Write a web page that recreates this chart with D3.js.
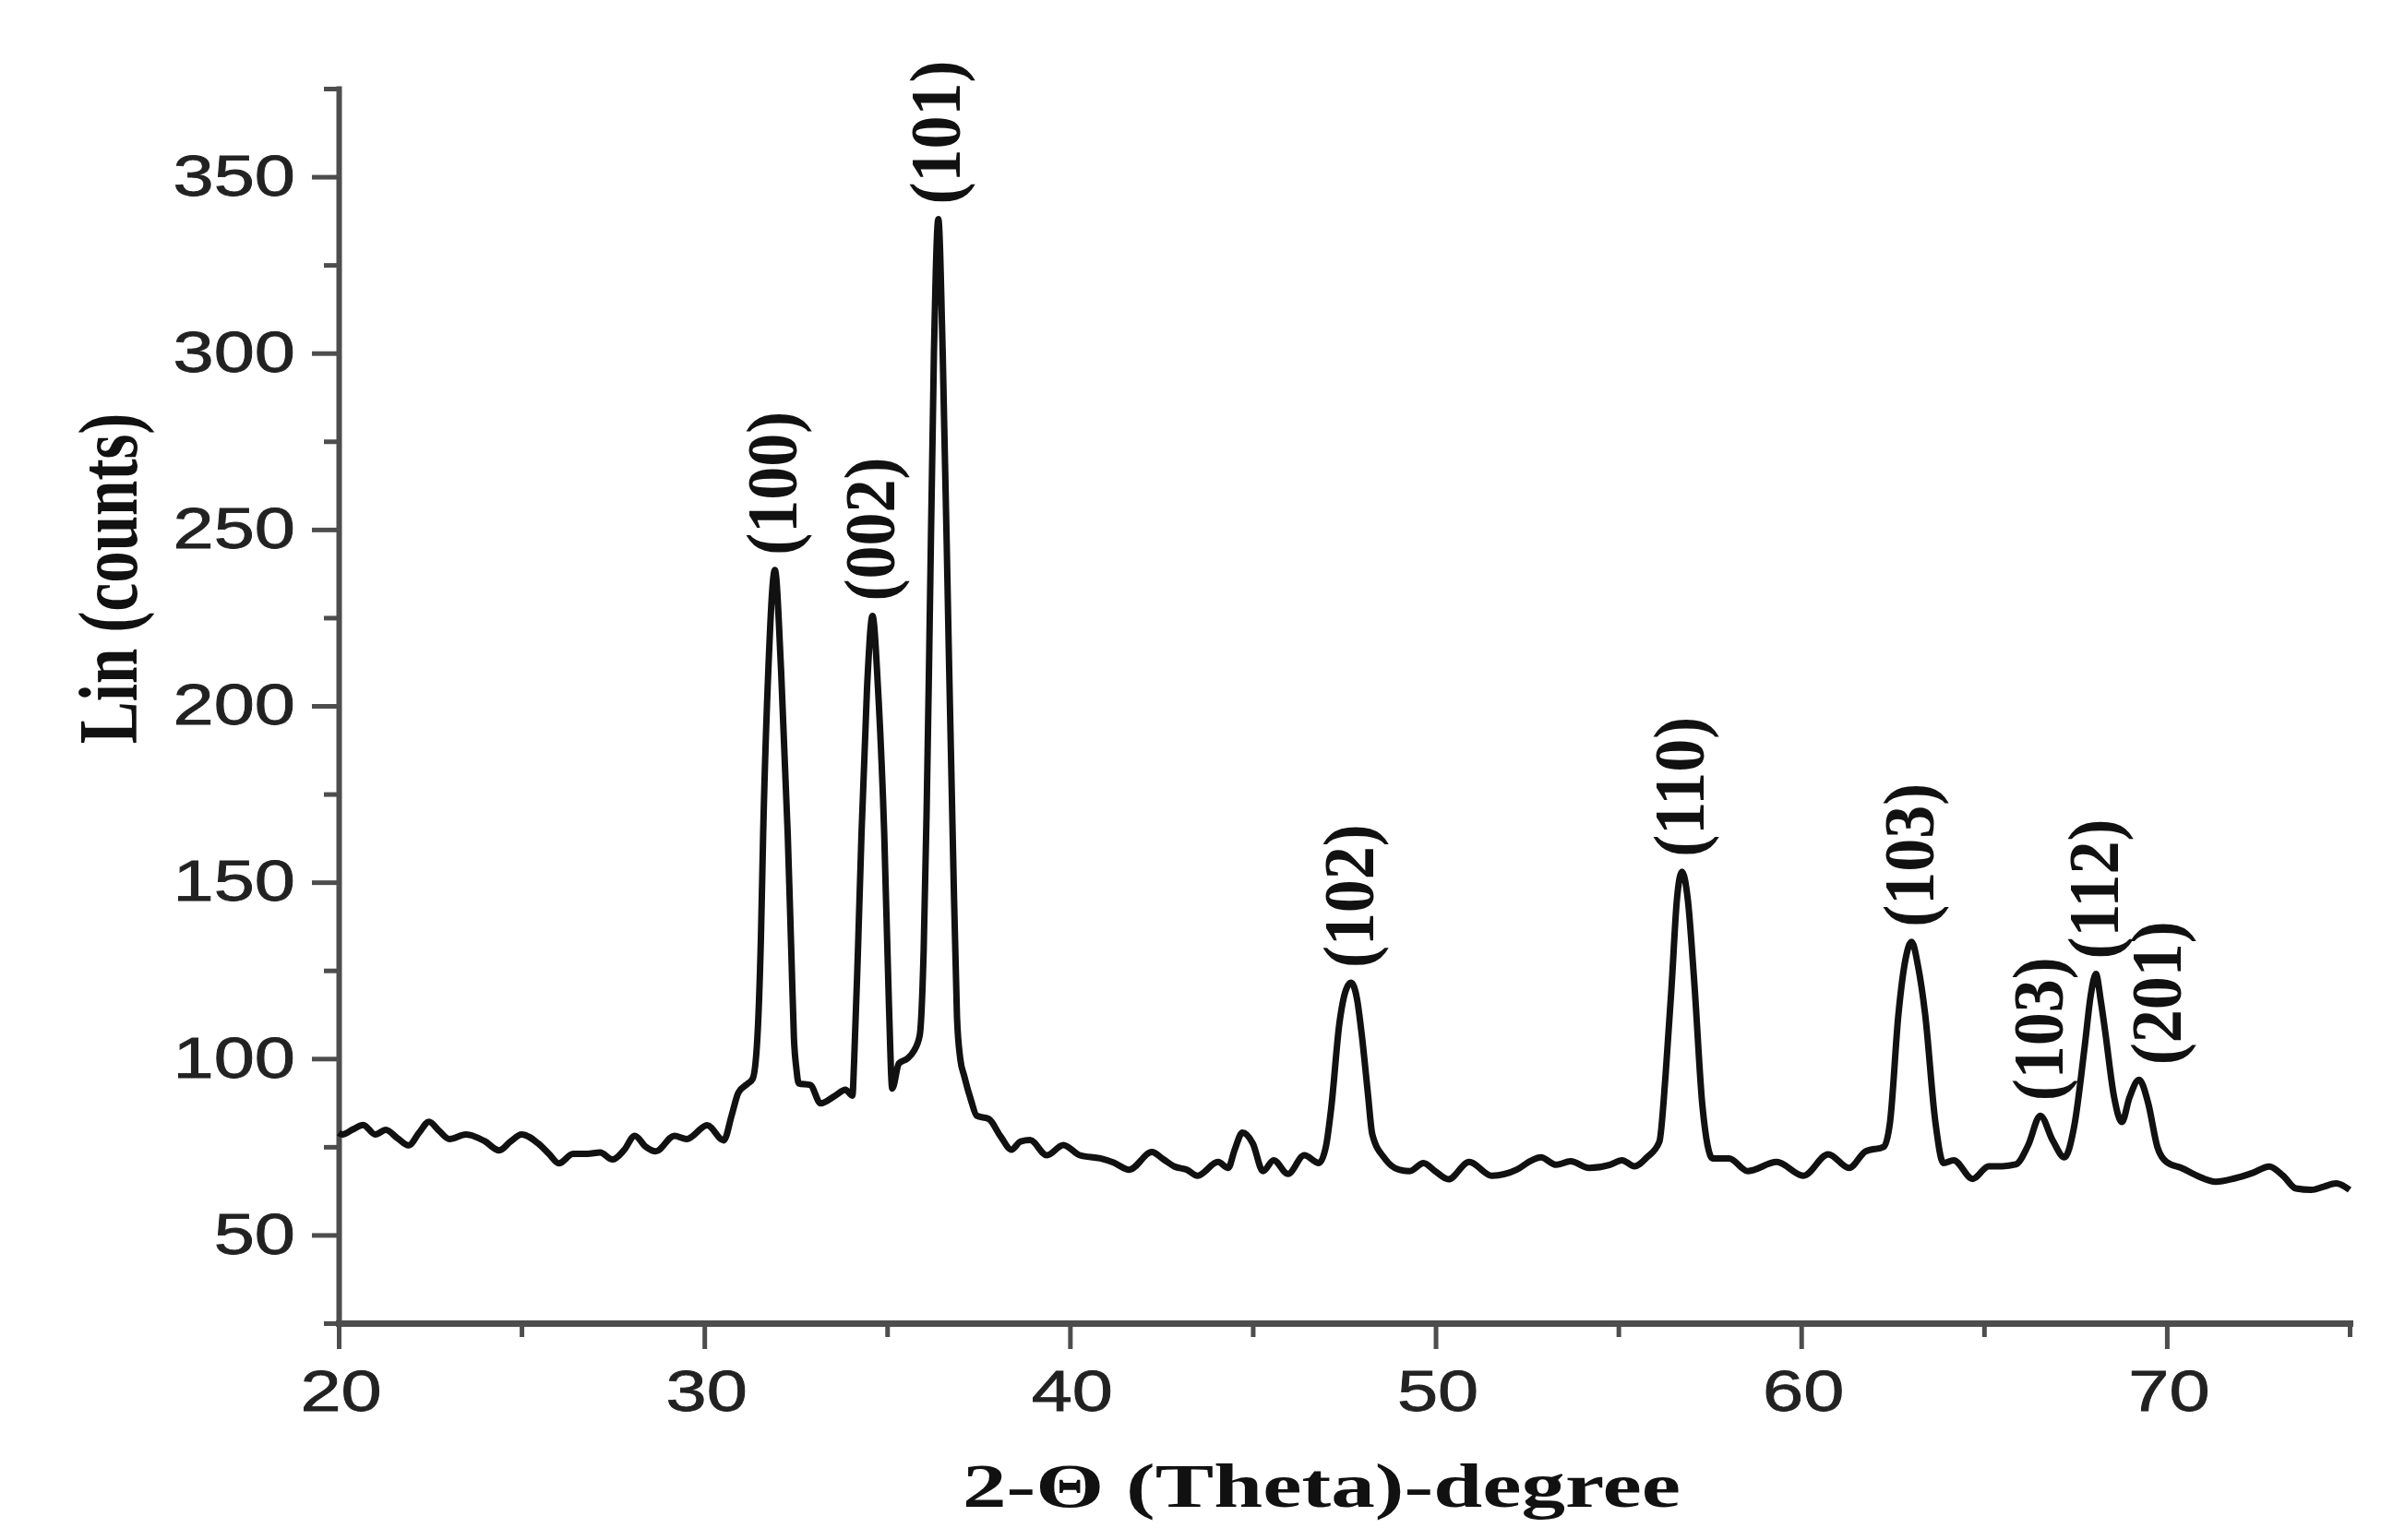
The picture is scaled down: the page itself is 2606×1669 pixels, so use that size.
<!DOCTYPE html>
<html>
<head>
<meta charset="utf-8">
<script src="https://cdn.jsdelivr.net/npm/d3@7"></script>
<style>
    body { margin: 0; background: #fff; }
    svg { display: block; }
</style>
</head>
<body>
<svg id="xrd-chart" width="2606" height="1669" viewBox="0 0 2606 1669"></svg>
<script>

// 2-theta positions (degrees) and intensities
const twoTheta = [
    20.0, 20.1, 20.4, 20.67, 21.0, 21.29, 21.6, 21.91, 22.2, 22.47, 22.75, 23.03, 23.48, 23.99, 24.39, 24.7,
    25.0, 25.45, 25.75, 26.02, 26.41, 26.8, 27.15, 27.49, 27.8, 28.1, 28.4, 28.67, 29.18, 29.52, 30.08, 30.53,
    30.75, 30.93, 31.2, 31.32, 31.44, 31.55, 31.61, 31.75, 31.93, 32.1, 32.28, 32.38, 32.45, 32.52, 32.58, 32.9,
    33.18, 33.58, 33.86, 34.05, 34.1, 34.2, 34.3, 34.45, 34.6, 34.75, 34.92, 35.05, 35.14, 35.32, 35.55, 35.72,
    35.89, 36.0, 36.08, 36.15, 36.28, 36.4, 36.52, 36.69, 36.8, 36.91, 37.0, 37.11, 37.3, 37.45, 37.78, 38.1,
    38.4, 38.65, 38.91, 39.37, 39.82, 40.27, 40.83, 41.2, 41.62, 42.24, 42.55, 42.86, 43.2, 43.49, 44.05, 44.33,
    44.5, 44.72, 45.0, 45.28, 45.57, 45.96, 46.41, 46.81, 47.0, 47.15, 47.37, 47.55, 47.69, 47.85, 47.99, 48.15,
    48.27, 48.61, 49.0, 49.29, 49.67, 50.0, 50.35, 50.92, 51.54, 52.22, 52.6, 52.88, 53.3, 53.69, 54.2, 54.77,
    55.1, 55.44, 55.78, 56.12, 56.29, 56.46, 56.6, 56.74, 56.9, 57.08, 57.3, 57.58, 58.03, 58.54, 59.33, 60.06,
    60.74, 61.31, 61.76, 62.26, 62.43, 62.66, 62.85, 63.02, 63.2, 63.39, 63.67, 63.89, 64.17, 64.69, 65.13, 65.5,
    65.87, 66.21, 66.54, 66.88, 67.2, 67.47, 67.76, 67.92, 68.06, 68.2, 68.31, 68.56, 68.77, 68.98, 69.24, 69.49,
    69.74, 69.99, 70.4, 70.83, 71.34, 71.84, 72.35, 72.8, 73.18, 73.53, 73.95, 74.29, 74.63, 75.0
];

const counts = [
    79, 78.5, 80, 81.2, 78.5, 79.8, 77.5, 75.4, 79, 82.1, 79.5, 77.2, 78.5, 76.6, 74, 76.5,
    78.5, 76, 73, 70.3, 73, 73, 73.4, 71.4, 74, 78.1, 75, 73.7, 78.1, 77.2, 81.1, 76.8,
    84, 90.3, 93, 94.2, 104, 135, 164, 210, 238.5, 210, 164, 130, 106, 97, 93, 92.5,
    87.3, 89.5, 91.2, 89.5, 100, 130, 164, 205, 225.5, 205, 164, 115, 91.5, 98.6, 100, 102,
    106.5, 131, 170, 214, 300, 338, 300, 214, 160, 112, 100, 95, 88, 83.8, 82.9, 78,
    74.2, 76.5, 76.9, 72.6, 75.5, 72.6, 71.7, 70.5, 68.5, 73.5, 71.5, 69.4, 68.5, 66.8, 70.7, 69,
    74, 79, 76, 68.1, 71.2, 67.3, 72.6, 70.4, 75, 86.4, 110, 119.5, 121.5, 117, 106, 90,
    78.5, 71.7, 68.5, 68.1, 70.4, 68, 65.8, 70.7, 66.8, 68.5, 71, 72, 69.9, 70.9, 69, 69.9,
    71.2, 69.5, 72, 76.4, 95.2, 121.3, 145, 153, 145, 121, 86.4, 71.7, 71.7, 68.1, 70.7, 66.8,
    72.9, 69, 73.7, 75, 82, 112.6, 128, 133.1, 126, 112.6, 82, 70.4, 71.2, 65.9, 69.5, 69.5,
    70, 75.5, 83.8, 76.8, 72, 81, 104, 118, 124, 116, 108, 89, 82, 89, 94, 87.4,
    75, 70.7, 69, 66.8, 65.1, 66, 67.6, 69.4, 66.8, 63.2, 62.8, 63.7, 64.6, 62.8
];

// Miller indices of the labelled reflections
const peakHkl = ["(100)", "(002)", "(101)", "(102)", "(110)", "(103)", "(103)", "(112)", "(201)"];
const peakTheta = [31.93, 34.6, 36.4, 47.69, 56.74, 63.02, 66.54, 68.06, 69.24];
const peakCounts = [238.5, 225.5, 338, 121.5, 153, 133.1, 83.8, 124, 94];

// Axis ticks
const xMajorTicks = [20, 30, 40, 50, 60, 70];
const xMinorTicks = [25, 35, 45, 55, 65, 75];
const yMajorTicks = [50, 100, 150, 200, 250, 300, 350];
const yMinorTicks = [25, 75, 125, 175, 225, 275, 325, 375];

const xLabel = "2-\u0398 (Theta)-degree";
const yLabel = "Lin (counts)";

class XrdVis {

    constructor(_parentElement) {
        this.parentElement = _parentElement;
        this.data = twoTheta.map((t, i) => ({ t: t, v: counts[i] }));
        this.initVis();
    }

    initVis() {
        let vis = this;

        vis.svg = d3.select("#" + vis.parentElement);

        // plot area in page pixels
        vis.left = 367;
        vis.right = 2546;
        vis.top = 96;
        vis.bottom = 1434;

        vis.x = d3.scaleLinear().domain([20, 75]).range([vis.left, vis.right]);
        vis.y = d3.scaleLinear().domain([25, 375]).range([vis.bottom, vis.top]);

        // the original figure is stretched sideways, so all text gets widened
        vis.tickFont = "'Liberation Sans', Arial, sans-serif";
        vis.titleFont = "'Liberation Serif', 'Times New Roman', serif";
        vis.axisColor = "#4d4d4d";

        vis.drawAxes();
        vis.updateVis();
    }

    drawAxes() {
        let vis = this;
        const sx = 1.28;

        // x axis: minor first, then major (keeps the domain line on top)
        vis.svg.append("g")
            .attr("class", "x-minor")
            .attr("transform", `translate(0,${vis.bottom})`)
            .call(d3.axisBottom(vis.x).tickValues(xMinorTicks).tickSize(15).tickSizeOuter(0).tickFormat(""))
            .call(g => g.select(".domain").remove());

        let xAxis = vis.svg.append("g")
            .attr("class", "x-axis")
            .attr("transform", `translate(0,${vis.bottom})`)
            .call(d3.axisBottom(vis.x).tickValues(xMajorTicks).tickSize(28).tickSizeOuter(0).tickPadding(23));

        xAxis.selectAll("text")
            .attr("font-family", vis.tickFont)
            .attr("font-size", 62)
            .attr("fill", "#222")
            .attr("stroke", "#222")
            .attr("stroke-width", 0.8)
            .attr("transform", `scale(${sx},1)`)
            .attr("x", 2 / sx);

        // y axis
        vis.svg.append("g")
            .attr("class", "y-minor")
            .attr("transform", `translate(${vis.left},0)`)
            .call(d3.axisLeft(vis.y).tickValues(yMinorTicks).tickSize(16).tickSizeOuter(0).tickFormat(""))
            .call(g => g.select(".domain").remove());

        let yAxis = vis.svg.append("g")
            .attr("class", "y-axis")
            .attr("transform", `translate(${vis.left},0)`)
            .call(d3.axisLeft(vis.y).tickValues(yMajorTicks).tickSize(29).tickSizeOuter(0).tickPadding(18));

        yAxis.selectAll("text")
            .attr("font-family", vis.tickFont)
            .attr("font-size", 62)
            .attr("fill", "#222")
            .attr("stroke", "#222")
            .attr("stroke-width", 0.8)
            .attr("x", -47 / sx)
            .attr("transform", `scale(${sx},1)`);

        vis.svg.selectAll(".tick line")
            .attr("stroke", vis.axisColor)
            .attr("stroke-width", 5);

        vis.svg.select(".x-axis .domain")
            .attr("stroke", vis.axisColor)
            .attr("stroke-width", 7)
            .attr("stroke-linecap", "square");

        vis.svg.select(".y-axis .domain")
            .attr("stroke", vis.axisColor)
            .attr("stroke-width", 6)
            .attr("stroke-linecap", "square");

        // axis titles
        vis.svg.append("text")
            .attr("class", "x-title")
            .attr("transform", "translate(1432,1633) scale(1.4,1)")
            .attr("text-anchor", "middle")
            .attr("font-family", vis.titleFont)
            .attr("font-weight", "bold")
            .attr("font-size", 68)
            .attr("fill", "#111")
            .text(xLabel);

        vis.svg.append("text")
            .attr("class", "y-title")
            .attr("transform", "translate(117,627) scale(1.33,1) rotate(-90)")
            .attr("text-anchor", "middle")
            .attr("dominant-baseline", "central")
            .attr("font-family", vis.titleFont)
            .attr("font-weight", "bold")
            .attr("font-size", 69)
            .attr("fill", "#111")
            .text(yLabel);
    }

    updateVis() {
        let vis = this;

        let line = d3.line()
            .x(d => vis.x(d.t))
            .y(d => vis.y(d.v))
            .curve(d3.curveMonotoneX);

        vis.svg.append("path")
            .datum(vis.data)
            .attr("class", "pattern")
            .attr("d", line)
            .attr("fill", "none")
            .attr("stroke", "#111")
            .attr("stroke-width", 7)
            .attr("stroke-linejoin", "round");

        // hkl labels standing upright over each reflection
        let peaks = peakHkl.map((h, i) => ({ hkl: h, t: peakTheta[i], v: peakCounts[i] }));

        vis.svg.selectAll(".peak-label")
            .data(peaks)
            .enter()
            .append("text")
            .attr("class", "peak-label")
            .attr("transform", d => {
                // (201) sits just right of (112) so they don't collide
                let shift = d.hkl === "(201)" ? 19 : -3;
                return `translate(${vis.x(d.t) + shift},${vis.y(d.v) - 16}) scale(1.1,1) rotate(-90)`;
            })
            .attr("text-anchor", "start")
            .attr("dominant-baseline", "central")
            .attr("font-family", vis.titleFont)
            .attr("font-weight", "bold")
            .attr("font-size", 72)
            .attr("fill", "#111")
            .text(d => d.hkl);
    }
}

new XrdVis("xrd-chart");
</script>
</body>
</html>
